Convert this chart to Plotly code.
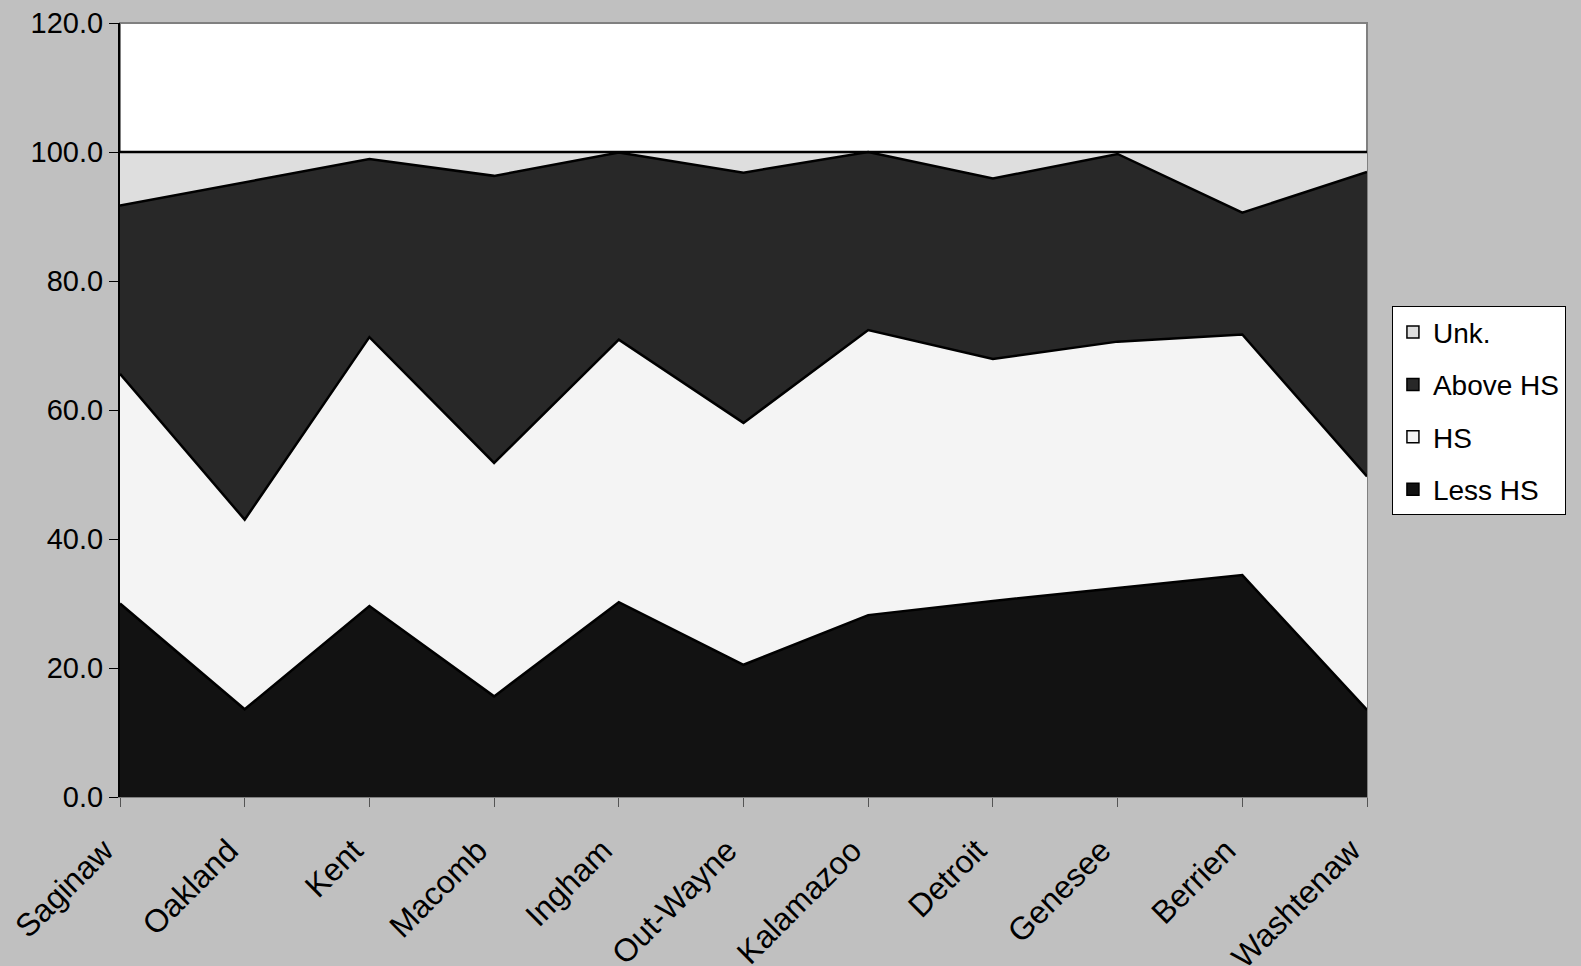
import plotly.graph_objects as go

counties = ["Saginaw", "Oakland", "Kent", "Macomb", "Ingham", "Out-Wayne",
            "Kalamazoo", "Detroit", "Genesee", "Berrien", "Washtenaw"]
less_hs = [30.0, 13.6, 29.6, 15.6, 30.2, 20.5, 28.2, 30.4, 32.4, 34.4, 13.5]
hs = [35.6, 29.4, 41.7, 36.2, 40.7, 37.5, 44.2, 37.5, 38.2, 37.3, 36.2]
above_hs = [26.1, 52.3, 27.6, 44.5, 29.0, 38.8, 27.6, 28.0, 29.1, 18.9, 47.2]
unk = [8.3, 4.7, 1.1, 3.7, 0.1, 3.2, 0.0, 4.1, 0.3, 9.4, 3.1]

series = [
    ("Less HS", less_hs, "#121212"),
    ("HS", hs, "#f4f4f4"),
    ("Above HS", above_hs, "#282828"),
    ("Unk.", unk, "#dedede"),
]

fig = go.Figure()
for name, vals, col in series:
    fig.add_trace(go.Scatter(
        x=counties, y=vals, name=name, mode="lines", stackgroup="one",
        line=dict(color="black", width=2.5), fillcolor=col,
        showlegend=False, hoverinfo="skip",
    ))

# legend swatches (square boxes, as in the original legend)
for rank, (name, vals, col) in enumerate(reversed(series)):
    fig.add_trace(go.Bar(
        x=[None], y=[None], name=name, legendgroup=name, legendrank=rank + 1,
        marker=dict(color=col, line=dict(color="black", width=1.5)),
        showlegend=True,
    ))

font = "Liberation Sans, Arial, sans-serif"
fig.update_layout(
    width=1581, height=966,
    paper_bgcolor="#c0c0c0", plot_bgcolor="white",
    margin=dict(l=120, r=214, t=23, b=169),
    font=dict(family=font, size=27, color="black"),
    showlegend=True,
    legend=dict(
        x=1.02, y=0.634, xanchor="left", yanchor="top",
        bgcolor="white", bordercolor="black", borderwidth=1,
        traceorder="grouped", tracegroupgap=13,
        font=dict(size=28), itemwidth=30,
    ),
    xaxis=dict(
        type="category", range=[0, 10], tickangle=-45, automargin=False,
        showgrid=False, ticks="outside", ticklen=9, tickcolor="#555555",
        showline=True, linecolor="#808080", linewidth=1,
        tickfont=dict(size=32), ticklabelstandoff=12, ticklabelshift=-16,
    ),
    yaxis=dict(
        range=[0, 120], tickvals=[0, 20, 40, 60, 80, 100, 120], automargin=False,
        tickformat=".1f", showgrid=False, ticks="outside", ticklen=9,
        tickcolor="black", showline=True, linecolor="black", linewidth=2,
        zeroline=False, tickfont=dict(size=29),
    ),
    shapes=[dict(type="rect", xref="paper", yref="paper", x0=0, x1=1, y0=0, y1=1,
                 line=dict(color="#808080", width=2), layer="below")],
)

fig.write_html("out.html", config={"displayModeBar": False},
               post_script="document.body.style.margin='0';")
